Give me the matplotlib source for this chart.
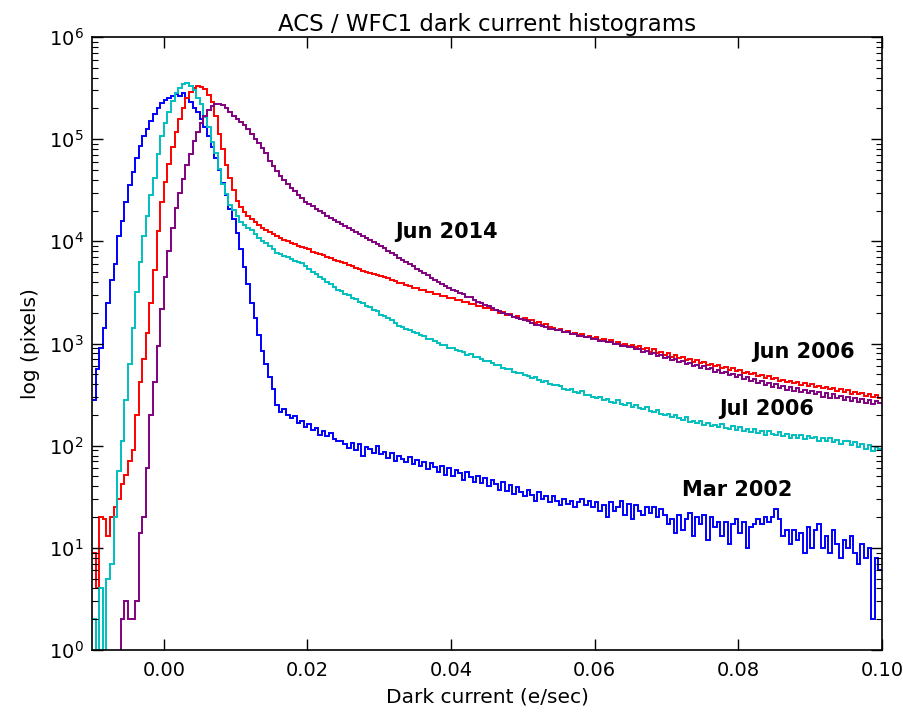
import numpy as np
import matplotlib
matplotlib.use("Agg")
import matplotlib.pyplot as plt
from matplotlib.ticker import FixedLocator, LogFormatterSciNotation

# Histogram bins: 0.0005 e/sec wide, from -0.01 to 0.10
bin_lo = -0.01
bin_hi = 0.10
n_bins = 220

mar2002 = [282, 562, 912, 1410, 2510, 4170, 6030, 11200, 15800, 24000,
           35500, 47900, 66100, 85100, 107000, 126000, 151000, 178000, 200000, 224000,
           240000, 251000, 263000, 275000, 263000, 282000, 251000, 229000, 204000, 186000,
           158000, 132000, 107000, 83200, 66100, 50100, 37200, 28200, 20900, 16600,
           12000, 8320, 5620, 3800, 2510, 1780, 1200, 851, 631, 468,
           355, 251, 214, 229, 200, 186, 195, 166, 174, 151,
           162, 141, 148, 126, 138, 123, 132, 115, 110, 112,
           105, 95, 107, 91, 105, 79, 98, 93, 85, 100,
           83, 87, 76, 85, 71, 79, 74, 69, 78, 66,
           72, 63, 69, 59, 68, 62, 55, 63, 52, 60,
           50, 58, 54, 46, 55, 49, 44, 50, 43, 48,
           40, 46, 42, 37, 44, 36, 41, 34, 39, 35,
           32, 37, 33, 29, 35, 30, 32, 28, 32, 29,
           26, 30, 27, 29, 25, 28, 30, 26, 29, 25,
           28, 23, 26, 20, 28, 23, 25, 29, 21, 27,
           19, 26, 23, 21, 25, 22, 25, 20, 24, 21,
           17, 19, 14, 21, 15, 19, 22, 13, 20, 17,
           21, 12, 20, 16, 18, 13, 18, 11, 17, 19,
           14, 18, 10, 16, 17, 19, 17, 20, 18, 20,
           24, 19, 13, 15, 11, 15, 12, 14, 9, 16,
           10, 15, 17, 10, 13, 9, 15, 11, 8, 12,
           10, 13, 9, 7, 11, 8, 10, 2, 8, 6]

jun2006 = [9, 4, 20, 19, 13, 20, 25, 30, 42, 52,
           71, 91, 200, 417, 708, 1260, 2510, 5250, 12600, 24000,
           38000, 57500, 83200, 117000, 158000, 204000, 251000, 288000, 316000, 331000,
           324000, 309000, 269000, 229000, 170000, 112000, 79400, 56200, 41700, 31600,
           25100, 21900, 19500, 17800, 16600, 15500, 14500, 13500, 12900, 12300,
           11700, 11200, 10700, 10200, 10000, 9550, 9330, 8910, 8710, 8510,
           8320, 7940, 7760, 7590, 7410, 7080, 6920, 6610, 6460, 6310,
           6080, 5850, 5790, 5450, 5400, 5100, 5060, 4860, 4820, 4650,
           4600, 4430, 4400, 4150, 4100, 3950, 3920, 3700, 3660, 3520,
           3500, 3360, 3330, 3210, 3190, 3060, 3050, 2920, 2910, 2790,
           2790, 2660, 2660, 2540, 2540, 2420, 2430, 2310, 2320, 2210,
           2220, 2110, 2120, 2010, 2030, 1920, 1940, 1830, 1850, 1750,
           1770, 1680, 1690, 1590, 1610, 1530, 1540, 1450, 1430, 1360,
           1380, 1300, 1320, 1240, 1260, 1210, 1230, 1150, 1180, 1130,
           1150, 1080, 1100, 1030, 1080, 1000, 1030, 960, 1000, 940,
           960, 915, 940, 875, 895, 835, 875, 815, 835, 780,
           800, 745, 780, 725, 745, 695, 712, 662, 695, 648,
           665, 618, 635, 605, 622, 575, 592, 550, 580, 538,
           553, 514, 528, 502, 516, 480, 493, 458, 482, 447,
           460, 428, 440, 418, 430, 408, 420, 390, 410, 381,
           401, 372, 383, 364, 374, 355, 366, 340, 357, 332,
           349, 324, 334, 317, 326, 309, 318, 302, 311, 296]

jul2006 = [2, 1, 4, 1, 5, 7, 20, 56, 112, 282,
           631, 1410, 3160, 6310, 11200, 17800, 28200, 41700, 70800, 107000,
           145000, 186000, 234000, 282000, 316000, 347000, 351000, 331000, 302000, 251000,
           219000, 166000, 132000, 93300, 72400, 51300, 36300, 28800, 22900, 20400,
           17800, 15500, 14500, 13500, 12900, 11700, 10700, 10000, 9550, 8910,
           8320, 7760, 7590, 7240, 7080, 6760, 6460, 6310, 6170, 5750,
           5370, 5040, 4760, 4500, 4240, 4000, 3780, 3570, 3370, 3260,
           3070, 2970, 2800, 2710, 2550, 2470, 2320, 2260, 2120, 2060,
           1920, 1850, 1790, 1690, 1600, 1500, 1460, 1400, 1360, 1310,
           1270, 1220, 1180, 1110, 1110, 1060, 1010, 970, 965, 905,
           905, 860, 845, 830, 780, 790, 735, 745, 700, 668,
           670, 640, 610, 622, 580, 560, 565, 530, 515, 520,
           495, 485, 460, 470, 440, 420, 430, 400, 392, 395,
           380, 358, 350, 355, 333, 326, 340, 315, 312, 300,
           296, 300, 282, 288, 268, 262, 280, 258, 250, 262,
           240, 252, 236, 228, 238, 218, 215, 222, 204, 200,
           205, 190, 198, 186, 180, 190, 172, 176, 166, 175,
           160, 168, 156, 160, 152, 162, 150, 147, 156, 142,
           152, 140, 147, 136, 145, 134, 140, 128, 138, 130,
           126, 135, 124, 130, 120, 128, 118, 126, 115, 124,
           118, 122, 112, 118, 110, 120, 108, 114, 104, 112,
           110, 102, 108, 98, 104, 92, 102, 88, 98, 92]

jun2014 = [0, 0, 0, 0, 0, 0, 0, 0, 2, 3,
           2, 2, 3, 14, 20, 60, 200, 420, 950, 2200,
           4500, 8000, 13500, 21000, 30000, 41000, 56000, 72000, 95000, 118000,
           145000, 170000, 195000, 210000, 219000, 220000, 214000, 204000, 186000, 170000,
           158000, 148000, 138000, 126000, 112000, 100000, 91200, 81300, 72400, 61700,
           55000, 49000, 43700, 39800, 36300, 33100, 30900, 28200, 26300, 24500,
           23400, 22400, 20900, 20000, 19100, 17800, 17000, 16200, 15500, 14800,
           14100, 13500, 12900, 12300, 11700, 11200, 10700, 10200, 9770, 9330,
           8910, 8510, 8130, 7760, 7410, 6920, 6610, 6310, 6030, 5750,
           5370, 5130, 4900, 4680, 4370, 4170, 3980, 3800, 3630, 3470,
           3310, 3240, 3090, 3020, 2880, 2820, 2690, 2570, 2510, 2400,
           2340, 2240, 2140, 2090, 2000, 1950, 1910, 1820, 1780, 1740,
           1710, 1650, 1600, 1530, 1520, 1470, 1460, 1400, 1395, 1370,
           1360, 1305, 1300, 1240, 1245, 1185, 1180, 1160, 1160, 1105,
           1110, 1050, 1065, 1030, 1035, 985, 990, 940, 950, 915,
           925, 875, 885, 830, 850, 795, 808, 760, 775, 725,
           740, 690, 710, 655, 680, 630, 645, 600, 620, 572,
           605, 560, 578, 530, 555, 510, 530, 488, 505, 465,
           495, 452, 472, 432, 452, 412, 432, 395, 412, 375,
           402, 367, 385, 350, 375, 342, 368, 335, 350, 325,
           343, 318, 336, 302, 328, 296, 320, 290, 305, 282,
           298, 276, 292, 270, 285, 263, 280, 257, 272, 262]

series = [("Mar 2002", mar2002, "#0000ff"),
          ("Jun 2006", jun2006, "#ff0000"),
          ("Jul 2006", jul2006, "#00bfbf"),
          ("Jun 2014", jun2014, "#800080")]

labels = [("Jun 2014", 0.0322, 1.23e4),
          ("Jun 2006", 0.0819, 8.3e2),
          ("Jul 2006", 0.0773, 2.3e2),
          ("Mar 2002", 0.0722, 3.7e1)]

title = "ACS / WFC1 dark current histograms"
xlabel = "Dark current (e/sec)"
ylabel = "log (pixels)"
xticks = [0.00, 0.02, 0.04, 0.06, 0.08, 0.10]
xticklabels = ["0.00", "0.02", "0.04", "0.06", "0.08", "0.10"]
yticks = [1e0, 1e1, 1e2, 1e3, 1e4, 1e5, 1e6]

plt.rcParams['font.family'] = ['DejaVu Sans']
plt.rcParams['mathtext.fontset'] = 'dejavusans'

fig = plt.figure(figsize=(9.04, 7.13), dpi=100)
ax = fig.add_axes([92/904, 63/713, 790/904, 613/713])

edges = np.linspace(bin_lo, bin_hi, n_bins + 1)
for name, vals, col in series:
    v = np.asarray(vals, dtype=float)
    v = np.where(v > 0, v, 0.1)
    ax.stairs(v, edges, baseline=None, color=col, lw=1.4)

ax.set_yscale('log')
ax.set_xlim(-0.01, 0.10)
ax.set_ylim(1, 1e6)
ax.set_xticks(xticks)
ax.set_xticklabels(xticklabels)
ax.yaxis.set_major_locator(FixedLocator(yticks))
ax.yaxis.set_major_formatter(LogFormatterSciNotation())
minor = [m * d for d in yticks[:-1] for m in range(2, 10)]
ax.yaxis.set_minor_locator(FixedLocator(minor))
ax.yaxis.set_minor_formatter(plt.NullFormatter())

for name, x, y in labels:
    ax.text(x, y, name, fontsize=15, fontweight='bold', ha='left', va='center')

ax.set_title(title, fontsize=16.5, pad=4)
ax.set_xlabel(xlabel, fontsize=14.5, labelpad=5)
ax.set_ylabel(ylabel, fontsize=14.5, labelpad=6)

ax.tick_params(which='both', direction='in', top=True, right=True, labelsize=14, colors='black')
ax.tick_params(which='major', length=8, width=1)
ax.tick_params(which='minor', length=4, width=0.8)
ax.tick_params(axis='x', pad=8)
ax.tick_params(axis='y', pad=6)
for s in ax.spines.values():
    s.set_linewidth(1.2)

fig.savefig("out.png", dpi=100)
